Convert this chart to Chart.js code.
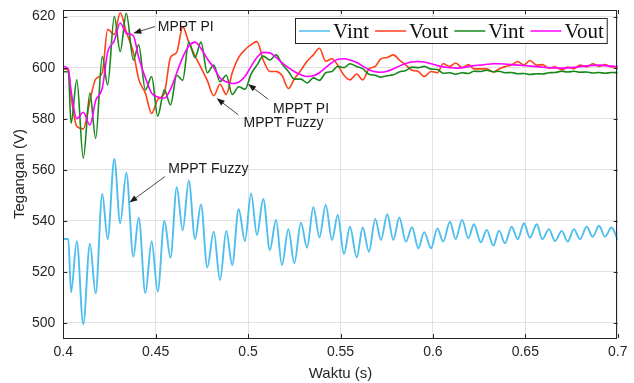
<!DOCTYPE html>
<html>
<head>
<meta charset="utf-8">
<script src="https://cdn.jsdelivr.net/npm/chart.js@4.4.1/dist/chart.umd.min.js"></script>
<style>
  html, body { margin: 0; padding: 0; background: #fff; }
</style>
</head>
<body>
<canvas id="tegangan-chart" width="634" height="383"></canvas>
<script>
// Time samples (s), taken at the turning points of the 150 Hz ripple
const waktu = [
  0.4000, 0.4027, 0.4042, 0.4073, 0.4108, 0.4144, 0.4175, 0.4211, 0.4240, 0.4276,
  0.4308, 0.4341, 0.4379, 0.4408, 0.4444, 0.4478, 0.4511, 0.4547, 0.4580, 0.4614,
  0.4646, 0.4679, 0.4713, 0.4745, 0.4779, 0.4814, 0.4848, 0.4882, 0.4914, 0.4949,
  0.4983, 0.5016, 0.5048, 0.5082, 0.5118, 0.5151, 0.5183, 0.5218, 0.5250, 0.5286,
  0.5319, 0.5353, 0.5386, 0.5420, 0.5454, 0.5485, 0.5519, 0.5551, 0.5588, 0.5620,
  0.5654, 0.5688, 0.5719, 0.5753, 0.5786, 0.5818, 0.5854, 0.5887, 0.5921, 0.5953,
  0.5990, 0.6024, 0.6056, 0.6092, 0.6123, 0.6158, 0.6192, 0.6222, 0.6259, 0.6291,
  0.6327, 0.6358, 0.6390, 0.6426, 0.6459, 0.6493, 0.6525, 0.6562, 0.6592, 0.6628,
  0.6661, 0.6697, 0.6729, 0.6763, 0.6796, 0.6832, 0.6865, 0.6899, 0.6931, 0.6967,
  0.7000
];

// MPPT Fuzzy: Vint (light blue) and Vout (red)
const vintFuzzy = [
  532.8, 532.8, 511.9, 532.0, 499.4, 531.0, 511.5, 550.5, 532.7, 564.2,
  539.0, 558.8, 525.9, 541.2, 511.5, 532.0, 512.2, 539.9, 525.5, 553.1,
  536.2, 555.7, 532.8, 546.4, 521.7, 535.7, 516.7, 536.0, 522.6, 544.5,
  532.0, 550.7, 534.4, 548.5, 528.5, 540.3, 522.6, 536.7, 523.3, 539.2,
  529.4, 545.3, 533.5, 546.2, 532.4, 542.2, 526.9, 537.6, 525.6, 537.3,
  527.8, 540.7, 532.4, 542.5, 532.4, 541.3, 531.8, 537.4, 529.2, 535.5,
  529.2, 537.0, 531.8, 539.6, 532.8, 540.3, 533.1, 538.6, 531.5, 536.4,
  530.2, 536.1, 531.1, 537.6, 532.7, 539.0, 533.3, 538.6, 532.7, 536.7,
  532.0, 536.0, 531.8, 536.7, 532.7, 537.6, 533.7, 538.0, 533.7, 537.3,
  532.4
];
const voutFuzzy = [
  599.5, 599.0, 589.0, 577.0, 576.0, 587.0, 595.5, 598.0, 615.0, 613.0,
  621.5, 614.0, 606.0, 595.5, 590.0, 582.0, 587.5, 590.0, 604.0, 606.0,
  616.0, 610.0, 604.5, 600.0, 595.0, 589.0, 593.5, 589.5, 598.0, 604.0,
  607.0, 609.0, 610.2, 603.0, 598.5, 598.5, 597.0, 591.8, 595.5, 599.0,
  602.5, 605.0, 607.6, 602.5, 603.5, 601.0, 597.0, 595.2, 597.5, 595.2,
  599.5, 600.5, 603.5, 604.0, 605.0, 603.0, 601.0, 599.0, 598.5, 596.5,
  598.5, 598.0, 601.5, 600.5, 601.8, 600.0, 601.2, 599.5, 599.5, 599.5,
  598.3, 599.5, 600.4, 601.0, 602.4, 601.0, 602.8, 601.0, 601.2, 599.8,
  600.3, 599.1, 600.2, 599.6, 601.0, 600.3, 601.5, 600.5, 601.2, 600.2,
  600.5
];

// MPPT PI: Vint (green) and Vout (magenta)
const vintPI = [
  598.4, 598.4, 578.2, 595.2, 564.5, 590.0, 572.3, 604.3, 593.2, 620.0,
  606.3, 621.3, 603.0, 609.0, 591.3, 596.5, 581.0, 591.3, 585.4, 597.0,
  595.0, 610.0, 604.0, 610.0, 598.0, 601.0, 594.5, 597.0, 589.5, 592.5,
  591.5, 597.5, 601.0, 604.5, 603.0, 605.0, 601.5, 598.5, 595.5, 595.5,
  594.0, 596.0, 595.0, 598.0, 598.5, 600.5, 600.0, 601.5, 600.4, 599.6,
  597.4, 597.0, 596.3, 596.8, 597.2, 598.3, 598.9, 600.2, 600.0, 600.5,
  599.4, 599.3, 597.8, 598.0, 597.4, 598.0, 597.7, 598.6, 598.5, 599.0,
  598.4, 598.6, 598.0, 598.1, 597.6, 597.7, 597.3, 597.6, 597.5, 598.0,
  598.1, 598.6, 598.3, 598.6, 598.2, 598.3, 597.9, 598.1, 597.8, 598.1,
  598.0
];
const voutPI = [
  600.5, 599.5, 591.0, 580.0, 582.5, 577.5, 587.0, 592.0, 606.0, 610.5,
  617.5, 613.5, 612.5, 604.0, 596.0, 590.0, 588.5, 588.0, 591.5, 598.0,
  604.0, 608.5, 610.0, 607.5, 603.5, 600.0, 596.0, 594.5, 593.8, 594.3,
  596.5, 600.5, 604.0, 606.0, 605.8, 604.0, 602.0, 600.0, 598.5, 597.2,
  596.5, 596.8, 598.0, 600.0, 602.0, 603.3, 603.5, 603.0, 602.0, 600.6,
  599.2, 598.4, 598.2, 598.6, 599.5, 600.6, 601.6, 602.2, 602.4, 602.2,
  601.5, 600.8, 600.3, 600.0, 599.8, 600.0, 600.4, 600.8, 601.0, 601.3,
  601.5, 601.5, 601.4, 601.2, 601.0, 600.8, 600.6, 600.4, 600.2, 600.0,
  599.9, 599.8, 599.9, 600.1, 600.4, 600.7, 600.9, 601.0, 600.8, 600.6,
  600.4
];

const xTicks = [0.4, 0.45, 0.5, 0.55, 0.6, 0.65, 0.7];
const xTickLabels = ['0.4', '0.45', '0.5', '0.55', '0.6', '0.65', '0.7'];
const yTicks = [500, 520, 540, 560, 580, 600, 620];
const yTickLabels = ['500', '520', '540', '560', '580', '600', '620'];

// Callouts: label anchor and arrow tail/tip, in data units (s, V)
const callouts = [
  { text: 'MPPT PI',    at: [0.4511, 615.8], from: [0.4496, 616.1], to: [0.4379, 613.5] },
  { text: 'MPPT PI',    at: [0.5135, 583.9], from: [0.5109, 587.6], to: [0.5000, 593.6] },
  { text: 'MPPT Fuzzy', at: [0.4975, 578.4], from: [0.4947, 581.5], to: [0.4830, 588.0] },
  { text: 'MPPT Fuzzy', at: [0.4568, 560.3], from: [0.4550, 557.3], to: [0.4358, 547.1] }
];

const INK = '#262626';
const SANS = 'Arial, "Liberation Sans", Helvetica, sans-serif';

function series(values) {
  return waktu.map((t, i) => ({ x: t, y: values[i] }));
}

function drawArrow(ctx, x0, y0, x1, y1) {
  const ang = Math.atan2(y1 - y0, x1 - x0);
  const len = 8, half = 3;
  ctx.beginPath();
  ctx.moveTo(x0, y0);
  ctx.lineTo(x1 - Math.cos(ang) * len * 0.8, y1 - Math.sin(ang) * len * 0.8);
  ctx.stroke();
  ctx.beginPath();
  ctx.moveTo(x1, y1);
  ctx.lineTo(x1 - Math.cos(ang) * len - Math.sin(ang) * half, y1 - Math.sin(ang) * len + Math.cos(ang) * half);
  ctx.lineTo(x1 - Math.cos(ang) * len + Math.sin(ang) * half, y1 - Math.sin(ang) * len - Math.cos(ang) * half);
  ctx.closePath();
  ctx.fill();
}

// Box, inward ticks, in-plot legend and callouts
const matlabAxes = {
  id: 'matlabAxes',
  afterDatasetsDraw(chart) {
    const { ctx, chartArea: a, scales: { x, y } } = chart;
    ctx.save();

    ctx.strokeStyle = INK;
    ctx.lineWidth = 1;
    ctx.beginPath();
    xTicks.forEach(v => {
      const px = Math.round(x.getPixelForValue(v)) + 0.5;
      ctx.moveTo(px, a.bottom); ctx.lineTo(px, a.bottom - 4);
      ctx.moveTo(px, a.top); ctx.lineTo(px, a.top + 4);
    });
    yTicks.forEach(v => {
      const py = Math.round(y.getPixelForValue(v)) + 0.5;
      ctx.moveTo(a.left, py); ctx.lineTo(a.left + 4, py);
      ctx.moveTo(a.right, py); ctx.lineTo(a.right - 4, py);
    });
    ctx.stroke();
    ctx.strokeRect(Math.round(a.left) + 0.5, Math.round(a.top) + 0.5,
                   Math.round(a.width) - 1, Math.round(a.height));

    // legend
    ctx.font = '21px "Liberation Serif", "Times New Roman", serif';
    const sets = chart.data.datasets;
    const pad = 3.5, sample = 31, gap = 3, sep = 6;
    let w = pad * 2;
    sets.forEach((d, i) => { w += sample + gap + ctx.measureText(d.label).width + (i < sets.length - 1 ? sep : 0); });
    const bh = 25;
    const bx = Math.round(a.right - 11 - w) + 0.5;
    const by = Math.round(a.top + 8) + 0.5;
    ctx.fillStyle = '#fff';
    ctx.fillRect(bx, by, w, bh);
    ctx.strokeStyle = INK;
    ctx.lineWidth = 1;
    ctx.strokeRect(bx, by, w, bh);
    let cx = bx + pad;
    const cy = by + bh / 2;
    ctx.textBaseline = 'middle';
    ctx.textAlign = 'left';
    sets.forEach(d => {
      ctx.strokeStyle = d.borderColor;
      ctx.lineWidth = 1.5;
      ctx.beginPath();
      ctx.moveTo(cx, cy); ctx.lineTo(cx + sample, cy);
      ctx.stroke();
      cx += sample + gap;
      ctx.fillStyle = '#111';
      ctx.fillText(d.label, cx, cy + 1);
      cx += ctx.measureText(d.label).width + sep;
    });

    // callouts
    ctx.font = '14px ' + SANS;
    ctx.fillStyle = '#1a1a1a';
    ctx.strokeStyle = '#1a1a1a';
    ctx.lineWidth = 0.8;
    callouts.forEach(c => {
      ctx.fillText(c.text, x.getPixelForValue(c.at[0]), y.getPixelForValue(c.at[1]));
      drawArrow(ctx,
        x.getPixelForValue(c.from[0]), y.getPixelForValue(c.from[1]),
        x.getPixelForValue(c.to[0]), y.getPixelForValue(c.to[1]));
    });

    ctx.restore();
  }
};

const tickFont = { family: SANS, size: 14 };
const titleFont = { family: SANS, size: 15 };

new Chart(document.getElementById('tegangan-chart'), {
  type: 'line',
  data: {
    datasets: [
      { label: 'Vint', data: series(vintFuzzy), borderColor: '#4dbeee', borderWidth: 1.9, order: 3 },
      { label: 'Vout', data: series(voutFuzzy), borderColor: '#ff4019', order: 2 },
      { label: 'Vint', data: series(vintPI),    borderColor: '#16881a', order: 1 },
      { label: 'Vout', data: series(voutPI),    borderColor: '#ff00ff', order: 0 }
    ]
  },
  options: {
    responsive: false,
    animation: false,
    layout: { padding: { top: 10, right: 16.3, left: 0, bottom: 0 } },
    elements: {
      point: { radius: 0 },
      line: { borderWidth: 1.6, cubicInterpolationMode: 'monotone', fill: false }
    },
    plugins: {
      legend: { display: false },
      tooltip: { enabled: false }
    },
    scales: {
      x: {
        type: 'linear',
        min: 0.4,
        max: 0.7,
        afterBuildTicks: s => { s.ticks = xTicks.map(v => ({ value: v })); },
        afterFit: s => { s.height = 45; s.paddingLeft = 0; s.paddingRight = 0; },
        ticks: {
          callback: (v, i) => xTickLabels[i],
          font: tickFont, color: INK, padding: 6,
          maxRotation: 0, autoSkip: false
        },
        grid: { color: '#e2e2e2', drawTicks: false },
        border: { display: false },
        title: { display: true, text: 'Waktu (s)', font: titleFont, color: INK, padding: { top: 0, bottom: 0 } }
      },
      y: {
        min: 494,
        max: 622.6,
        afterBuildTicks: s => { s.ticks = yTicks.map(v => ({ value: v })); },
        afterFit: s => { s.width = 63.3; s.paddingTop = 0; s.paddingBottom = 0; },
        ticks: {
          callback: (v, i) => yTickLabels[i],
          font: tickFont, color: INK, padding: 8
        },
        grid: { color: '#e2e2e2', drawTicks: false },
        border: { display: false },
        title: { display: true, text: 'Tegangan (V)', font: titleFont, color: INK, padding: { top: 11, bottom: 0 } }
      }
    }
  },
  plugins: [matlabAxes]
});
</script>
</body>
</html>
